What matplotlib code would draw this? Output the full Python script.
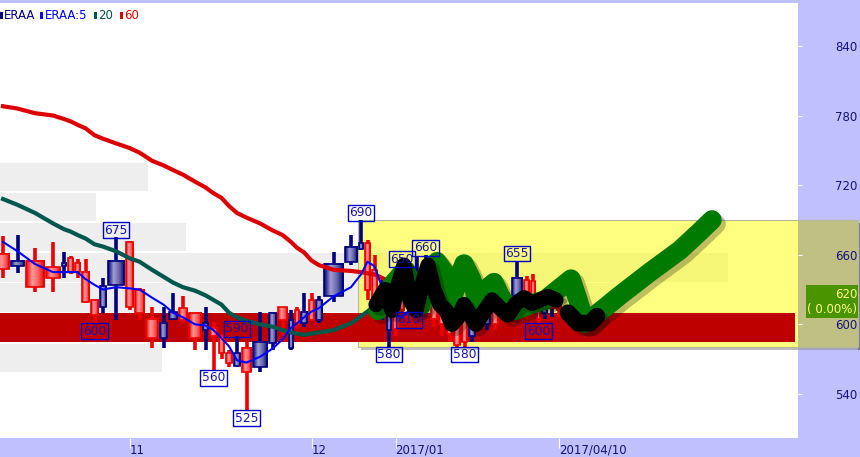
import numpy as np
import matplotlib
matplotlib.use('Agg')
import matplotlib.pyplot as plt
from matplotlib.patches import Rectangle
from matplotlib.colors import LinearSegmentedColormap
import matplotlib.patheffects as pe

# --- candles (volume sets the candle width) ---
opens  = [648, 655, 632, 640, 653, 645, 645, 619, 608, 633, 655, 615, 610, 588, 601, 611, 604, 588, 601, 590,
          575, 567, 575, 559, 585, 610, 604, 604, 600, 611, 604, 621, 652, 667, 670,
          630, 617, 630, 621, 596, 612, 640, 645, 647, 605, 600, 592, 582, 585, 610, 620, 615, 600, 625,
          610, 640, 613, 617, 605, 622, 620, 612]
highs  = [676, 677, 666, 671, 662, 659, 656, 656, 622, 640, 675, 672, 631, 615, 615, 627, 624, 611, 615, 602,
          592, 578, 590, 585, 611, 611, 615, 612, 615, 627, 627, 624, 662, 677, 690,
          673, 660, 638, 630, 625, 650, 648, 658, 660, 628, 620, 622, 605, 610, 615, 630, 625, 630, 632,
          628, 655, 642, 643, 625, 630, 628, 624]
lows   = [640, 644, 628, 628, 640, 643, 640, 618, 600, 610, 604, 612, 604, 580, 580, 604, 601, 578, 578, 560,
          570, 563, 563, 525, 559, 578, 590, 578, 596, 598, 604, 601, 619, 651, 664,
          621, 604, 604, 580, 590, 608, 610, 620, 620, 598, 590, 585, 580, 580, 585, 600, 595, 595, 605,
          600, 615, 605, 608, 600, 605, 606, 606]
closes = [661, 650, 655, 649, 650, 657, 653, 645, 621, 615, 634, 671, 630, 605, 588, 605, 614, 610, 595, 597,
          590, 575, 564, 580, 563, 584, 615, 580, 612, 601, 621, 604, 624, 654, 665,
          670, 647, 608, 595, 621, 642, 620, 625, 622, 620, 615, 620, 600, 605, 590, 605, 600, 625, 610,
          622, 620, 638, 637, 620, 610, 615, 620]
volume = [14, 15, 20, 16, 6, 7, 7, 9, 9, 8, 18, 9, 11, 14, 9, 10, 10, 14, 7, 9,
          7, 8, 8, 11, 16, 9, 11, 6, 6, 8, 7, 8, 21, 14, 6,
          7, 7, 8, 6, 7, 6, 8, 8, 9, 8, 8, 7, 8, 7, 8, 7, 8, 8, 6,
          6, 12, 7, 6, 5, 7, 8, 6]

# moving averages
ma5  = [671, 663, 652, 645, 645, 645, 645, 639, 634, 630, 632, 631, 630, 623, 617, 610, 606, 600, 599, 595,
        588, 581, 569, 567, 572, 579, 587, 597, 601, 606, 611, 614, 624, 632, 643,
        654, 650, 632, 621, 608, 606, 612, 621, 622, 617, 618, 611, 600, 604, 612, 617, 619, 621, 622,
        624, 625, 623, 621, 619, 618, 617, 617]
ma20 = [708, 703, 696, 687, 682, 680, 677, 674, 669, 667, 663, 657, 654, 647, 641, 636, 632, 629, 625, 621,
        617, 610, 606, 603, 600, 598, 595, 593, 592, 591, 592, 593, 595, 601, 607,
        611, 616, 619, 621, 623, 624, 623, 621, 619, 618, 617, 616, 615, 615, 615, 615, 615, 616, 616,
        616, 617, 617, 617, 617, 617, 617, 617]
ma60 = [788, 786, 782, 780, 777, 775, 772, 769, 763, 760, 756, 752, 748, 741, 737, 733, 729, 723, 718, 713,
        709, 702, 696, 692, 687, 681, 677, 671, 666, 662, 655, 651, 647, 646, 645,
        644, 643, 640, 637, 634, 631, 625, 621, 619, 617, 616, 615, 615, 615, 615, 615, 615, 615, 615,
        615, 615, 615, 615, 615, 615, 615, 615]

# high / low markers (candle index, which end)
marks = [(10, 'h'), (8, 'l'), (22, 'h'), (19, 'l'), (23, 'l'), (34, 'h'), (38, 'l'), (40, 'h'),
         (41, 'l'), (43, 'h'), (48, 'l'), (55, 'h'), (58, 'l')]

# volume-by-price profile
prof_lo  = [558, 584, 610, 636, 662, 688, 714]
prof_vol = [162, 795, 625, 728, 186, 96, 148]

# x axis labels at candle index
xtick_idx = [11, 30, 39, 61]
xtick_lab = ['11', '12', '2017/01', '2017/04/10']
yticks = [540, 600, 660, 720, 780, 840]

# hand drawn marks on the chart (x, price)
green_stroke = [(378, 612), (392, 634), (405, 647), (415, 630), (422, 617), (430, 638), (437, 654), (446, 643),
                (452, 621), (458, 638), (464, 652), (472, 638), (478, 617), (486, 630), (494, 636), (502, 621),
                (515, 612), (530, 617), (545, 621), (558, 630), (571, 639), (578, 621), (585, 601), (600, 611),
                (620, 625), (650, 645), (680, 664), (700, 680), (712, 690)]
black_stroke = [(376, 617), (385, 630), (392, 612), (398, 634), (404, 651), (410, 621), (416, 612), (422, 634),
                (428, 651), (434, 630), (440, 617), (446, 612), (452, 600), (458, 606), (464, 617), (470, 608),
                (476, 600), (484, 611), (492, 621), (500, 614), (508, 608), (516, 618), (524, 623), (532, 618),
                (540, 621), (548, 624), (556, 621)]
black_base = [(568, 610), (578, 601), (590, 601), (597, 607)]

LAV = '#c0c0ff'
NAVY = '#12127e'

vol = np.array(volume, dtype=float)
x_left = -4 + np.concatenate([[0], np.cumsum(vol)[:-1]])
xc = x_left + vol / 2

fig = plt.figure(figsize=(8.6, 4.57), dpi=100, facecolor=LAV)
ax = fig.add_axes([0, 19 / 457, 798 / 860, 435 / 457])
ax.set_facecolor('white')
for s in ax.spines.values():
    s.set_visible(False)

# profile
pmax = max(prof_vol)
for lo, v in zip(prof_lo, prof_vol):
    if v == pmax:
        ax.add_patch(Rectangle((0, lo + 0.5), v, 25.5, fc='#bf0000', ec='none', zorder=2))
    else:
        ax.add_patch(Rectangle((0, lo + 0.8), v, 24.4, fc='#eeeeee', ec='none', zorder=1))

# highlighted box with shadow
ax.add_patch(Rectangle((361, 577.8), 500, 2.7, fc='#8a8a8a', alpha=0.55, ec='none', clip_on=False, zorder=1.4))
ax.add_patch(Rectangle((858, 577.8), 3, 109.5, fc='#606060', alpha=0.7, ec='none', clip_on=False, zorder=1.4))
ax.add_patch(Rectangle((358, 580.5), 440, 109.5, fc='#ffff00', alpha=0.5, ec='none', zorder=1.5))
ax.add_patch(Rectangle((798, 580.5), 60, 109.5, fc='#c0c084', ec='none', clip_on=False, zorder=1.5))
ax.add_patch(Rectangle((358, 580.5), 500, 109.5, fill=False, ec='#b8b8a0', lw=0.8, clip_on=False, zorder=1.6))

# candles
red_cm = LinearSegmentedColormap.from_list('rc', ['#e60000', '#ff9a9a', '#ff5c5c', '#dc0000'])
blue_cm = LinearSegmentedColormap.from_list('bc', ['#000080', '#a0a0d0', '#6464aa', '#00006e'])
grad = np.linspace(0, 1, 40).reshape(1, -1)
for i in range(len(opens)):
    up = closes[i] >= opens[i]
    col = '#ee0000' if up else '#000080'
    ax.vlines(xc[i], lows[i], highs[i], color=col, lw=2.6, zorder=3)
    lo, hi = sorted([opens[i], closes[i]])
    if hi - lo < 2:
        hi = lo + 2
    w = max(vol[i] - 1.5, 3)
    ax.imshow(grad, cmap=red_cm if up else blue_cm, extent=(xc[i] - w / 2, xc[i] + w / 2, lo, hi),
              aspect='auto', interpolation='bilinear', zorder=3.1)
    ax.add_patch(Rectangle((xc[i] - w / 2, lo), w, hi - lo, fill=False, ec=col, lw=1.2, zorder=3.2))

# moving averages
ax.plot(xc, ma60, color='#dd0000', lw=3, zorder=4, solid_joinstyle='round')
ax.plot(xc, ma20, color='#00574c', lw=3, zorder=4, solid_joinstyle='round')
ax.plot(xc, ma5, color='#0000ff', lw=1.5, zorder=4.1)

# scribbles
shadow = [pe.SimpleLineShadow(offset=(3, -3), alpha=0.25), pe.Normal()]
gx, gy = zip(*green_stroke)
ax.plot(gx, gy, color='#007a00', lw=14, solid_capstyle='round', solid_joinstyle='round',
        zorder=4.5, path_effects=shadow)
bx, by = zip(*black_stroke)
ax.plot(bx, by, color='black', lw=11, solid_capstyle='round', solid_joinstyle='round',
        zorder=4.6, path_effects=shadow)
bx, by = zip(*black_base)
ax.plot(bx, by, color='black', lw=12, solid_capstyle='round', solid_joinstyle='round',
        zorder=4.6, path_effects=shadow)

# high / low labels
for idx, side in marks:
    val = highs[idx] if side == 'h' else lows[idx]
    ax.annotate(str(val), (xc[idx], val), xytext=(0, 7 if side == 'h' else -7),
                textcoords='offset pixels', ha='center', va='center', fontsize=8.8, color='#1414b4',
                bbox=dict(boxstyle='square,pad=0.12', fc='none', ec='#0000cc', lw=1), zorder=6)

ax.set_xlim(0, 798)
ax.set_ylim(502, 877)

ax.yaxis.tick_right()
ax.set_yticks(yticks)
ax.tick_params(axis='y', direction='out', length=3, color='white', pad=24, labelsize=8.5, labelcolor=NAVY)
ax.set_xticks(xc[xtick_idx])
ax.set_xticklabels(xtick_lab, ha='left')
ax.tick_params(axis='x', direction='out', length=7, color='white', pad=-3, labelsize=8.5, labelcolor=NAVY)

# last price tag
last = closes[-1]
ax.add_patch(Rectangle((806, last - 14.5), 52, 28.5, fc='#4a9400', ec='none', clip_on=False, zorder=5))
ax.text(857, last + 6, str(last), ha='right', va='center', fontsize=8.5, color='#ffff90', zorder=6, clip_on=False)
ax.text(857, last - 7, '( 0.00%)', ha='right', va='center', fontsize=8.5, color='#ffff90', zorder=6, clip_on=False)

# legend line at the top
def px(x, y):
    return x / 860, 1 - y / 457

for x, c in [(0, '#000080'), (40, '#0000ff'), (94, '#00574c'), (120, '#dd0000')]:
    fig.patches.append(Rectangle(px(x, 19), 2.5 / 860, 7 / 457, fc=c, ec='none', transform=fig.transFigure))
for x, t, c in [(4, 'ERAA', '#000080'), (45, 'ERAA:5', '#0000ff'), (98, '20', '#00574c'), (124, '60', '#dd0000')]:
    fig.text(*px(x, 15.5), t, color=c, fontsize=8.5, va='center', ha='left')

fig.savefig('out.png', dpi=100, facecolor=LAV)
